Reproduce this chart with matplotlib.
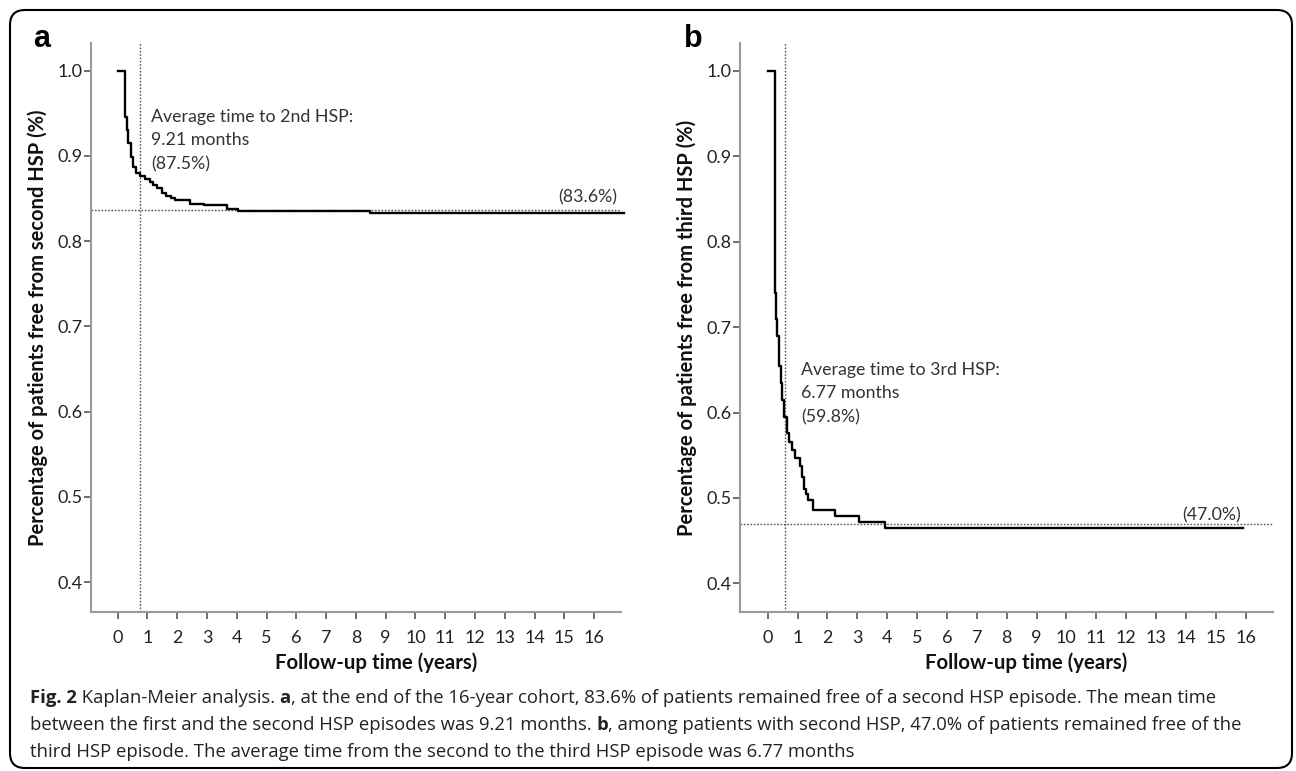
import numpy as np
import matplotlib
matplotlib.use("Agg")
import matplotlib.pyplot as plt
from matplotlib.patches import FancyBboxPatch

# Kaplan-Meier curves (years, proportion free)
a_time = [0, 0.245, 0.30, 0.36, 0.44, 0.52, 0.61, 0.75, 0.92, 1.08, 1.20, 1.31,
          1.48, 1.64, 1.78, 1.92, 2.43, 2.90, 3.32, 3.66, 4.05, 8.47, 17.0]
a_surv = [1.0, 0.946, 0.930, 0.915, 0.899, 0.887, 0.880, 0.876, 0.873, 0.869, 0.866, 0.862,
          0.857, 0.853, 0.851, 0.848, 0.844, 0.843, 0.842, 0.838, 0.8355, 0.8335, 0.8335]

b_time = [0, 0.235, 0.25, 0.28, 0.32, 0.36, 0.39, 0.44, 0.49, 0.56, 0.63, 0.70,
          0.80, 0.92, 1.08, 1.14, 1.20, 1.28, 1.36, 1.51, 2.26, 3.07, 3.94, 15.9]
b_surv = [1.0, 0.80, 0.74, 0.71, 0.69, 0.67, 0.654, 0.635, 0.615, 0.595, 0.576, 0.565,
          0.556, 0.547, 0.537, 0.525, 0.511, 0.505, 0.498, 0.486, 0.479, 0.472, 0.4645, 0.4645]

a_mean_years = 9.21 / 12
b_mean_years = 6.77 / 12
a_final = 0.836
b_final = 0.470

a_note = ["Average time to 2nd HSP:", "9.21 months", "(87.5%)"]
b_note = ["Average time to 3rd HSP:", "6.77 months", "(59.8%)"]
a_end_label = "(83.6%)"
b_end_label = "(47.0%)"

xticks = list(range(0, 17))
yticks = [0.4, 0.5, 0.6, 0.7, 0.8, 0.9, 1.0]

W, H = 1296, 771
fig = plt.figure(figsize=(W / 100, H / 100), dpi=100)

def fx(px):
    return px / W

def fy(py):
    return 1 - py / H

chart_font = "Lato"
txt_col = "#333333"

def panel(left, right, xlim, ylim, t, s, mean_x, final_y, note, note_x, note_ys,
          end_label, end_x, end_y):
    ax = fig.add_axes([fx(left), fy(612), fx(right - left), fy(42.7) - fy(612)])
    ax.step(t, s, where="post", color="black", lw=1.7, clip_on=False, zorder=3)
    ax.axhline(final_y, color="#555555", lw=1.0, ls=(0, (1.2, 1.2)), zorder=2)
    ax.axvline(mean_x, color="#555555", lw=1.0, ls=(0, (1.2, 1.2)), zorder=2)
    ax.set_xlim(*xlim)
    ax.set_ylim(*ylim)
    ax.set_xticks(xticks)
    ax.set_yticks(yticks)
    ax.set_xticklabels([str(v) for v in xticks], fontfamily=chart_font, fontsize=13, color="#222222")
    ax.set_yticklabels(["%.1f" % v for v in yticks], fontfamily=chart_font, fontsize=13, color="#222222")
    for sp in ["top", "right"]:
        ax.spines[sp].set_visible(False)
    for sp in ["left", "bottom"]:
        ax.spines[sp].set_color("#999999")
        ax.spines[sp].set_linewidth(1.5)
    ax.tick_params(axis="y", length=5, width=1.2, color="#555555", pad=1)
    ax.tick_params(axis="x", length=5, width=1.2, color="#555555", pad=8)
    for line, yv in zip(note, note_ys):
        ax.text(note_x, yv, line, fontfamily=chart_font, fontsize=12.8, color=txt_col, va="baseline", ha="left")
    ax.text(end_x, end_y, end_label, fontfamily=chart_font, fontsize=12.8, color=txt_col, va="baseline", ha="right")
    return ax

ax_a = panel(91, 621, (-0.894, 16.9), (0.365, 1.0328), a_time, a_surv, a_mean_years, a_final,
             a_note, 1.12, [0.940, 0.913, 0.884], a_end_label, 16.76, 0.845)
ax_b = panel(740, 1273, (-0.93, 16.92), (0.3665, 1.033), b_time, b_surv, b_mean_years, b_final,
             b_note, 1.12, [0.644, 0.617, 0.589], b_end_label, 15.85, 0.4742)

# axis titles
for xc, lab in [(38, "Percentage of patients free from second HSP (%)"),
                (687, "Percentage of patients free from third HSP (%)")]:
    fig.text(fx(xc), fy(328), lab, rotation=90, ha="center", va="center",
             fontfamily=chart_font, fontweight="bold", fontsize=14.5, color="#111111")
for xc in [376, 1026]:
    fig.text(fx(xc), fy(663), "Follow-up time (years)", ha="center", va="center",
             fontfamily=chart_font, fontweight="bold", fontsize=14.7, color="#111111")

# panel letters
fig.text(fx(33), fy(47), "a", fontfamily="Liberation Sans", fontweight="bold", fontsize=22, va="baseline")
fig.text(fx(684), fy(47), "b", fontfamily="Liberation Sans", fontweight="bold", fontsize=22, va="baseline")

# caption, bold and regular pieces chained on each line
cap_font = "Open Sans"
cap_size = 13.3
cap_lines = [
    [("Fig. 2", "bold"), (" Kaplan-Meier analysis. ", "normal"), ("a", "bold"),
     (", at the end of the 16-year cohort, 83.6% of patients remained free of a second HSP episode. The mean time", "normal")],
    [("between the first and the second HSP episodes was 9.21 months. ", "normal"), ("b", "bold"),
     (", among patients with second HSP, 47.0% of patients remained free of the", "normal")],
    [("third HSP episode. The average time from the second to the third HSP episode was 6.77 months", "normal")],
]
for line, base in zip(cap_lines, [703, 730, 757]):
    last = None
    for txt, wt in line:
        if last is None:
            last = fig.text(fx(30), fy(base), txt, fontfamily=cap_font, fontweight=wt,
                            fontsize=cap_size, color="#222222", va="baseline")
        else:
            # start right where the previous piece ended
            last = plt.annotate(txt, xy=(1, 0), xycoords=last, va="bottom", ha="left",
                                fontfamily=cap_font, fontweight=wt, fontsize=cap_size,
                                color="#222222", annotation_clip=False)

# rounded frame around the whole figure
frame = FancyBboxPatch((0.10, 0.03), 12.82, 7.58, boxstyle="round,pad=0,rounding_size=0.15",
                       transform=fig.dpi_scale_trans, fill=False, edgecolor="black", lw=1.5)
fig.add_artist(frame)

fig.savefig("out.png", dpi=100)
